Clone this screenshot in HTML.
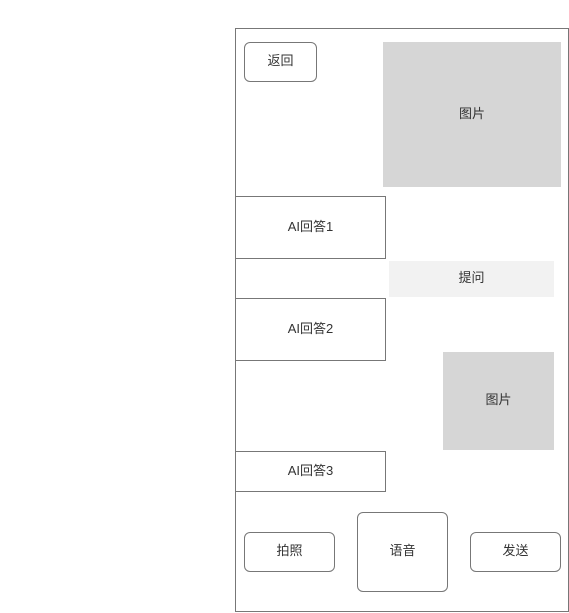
<!DOCTYPE html>
<html><head><meta charset="utf-8"><style>
body{margin:0;width:569px;height:613px;background:#fff;position:relative;overflow:hidden;font-family:"Liberation Sans","Noto Sans CJK SC",sans-serif;font-size:13px;color:#333}
div.b{position:absolute;box-sizing:border-box;display:flex;align-items:center;justify-content:center;padding-bottom:5px}
.s{border:1px solid #777}
.r{border-radius:6px}
.g{background:#d6d6d6}
</style></head><body>
<div class="b s" style="left:235px;top:28px;width:334px;height:584px"></div>
<div class="b s r" style="left:244px;top:42px;width:73px;height:40px">返回</div>
<div class="b g" style="left:383px;top:42px;width:178px;height:145px">图片</div>
<div class="b s" style="left:235px;top:196px;width:151px;height:63px">AI回答1</div>
<div class="b" style="left:389px;top:261px;width:165px;height:36px;background:#f2f2f2">提问</div>
<div class="b s" style="left:235px;top:298px;width:151px;height:63px">AI回答2</div>
<div class="b g" style="left:443px;top:352px;width:111px;height:98px">图片</div>
<div class="b s" style="left:235px;top:451px;width:151px;height:41px">AI回答3</div>
<div class="b s r" style="left:244px;top:532px;width:91px;height:40px">拍照</div>
<div class="b s r" style="left:357px;top:512px;width:91px;height:80px">语音</div>
<div class="b s r" style="left:470px;top:532px;width:91px;height:40px">发送</div>
</body></html>
